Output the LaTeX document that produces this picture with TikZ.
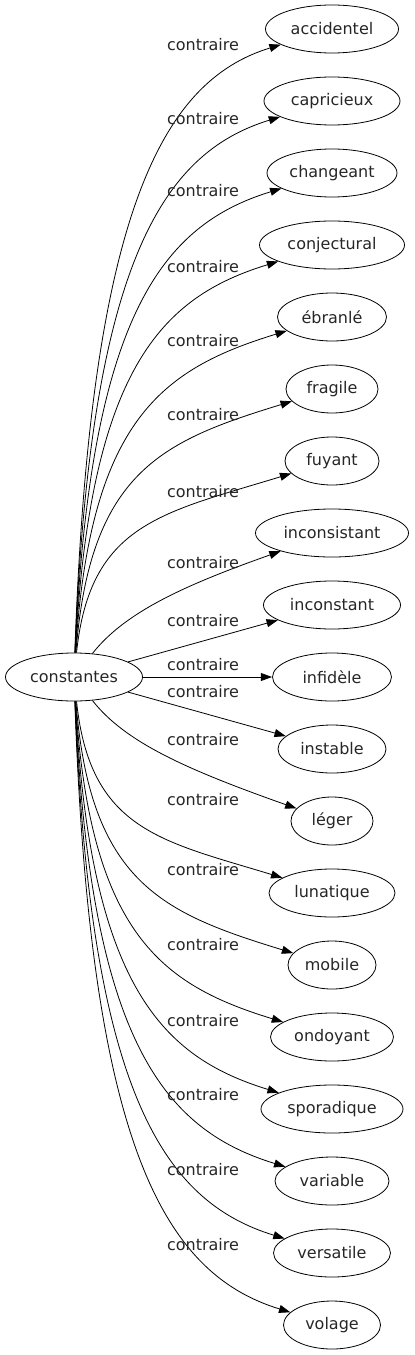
\documentclass[tikz,border=0pt]{standalone}
\usepackage{fontspec}
\setmainfont{DejaVu Sans}
\usetikzlibrary{arrows.meta,shapes.geometric}
\begin{document}
\begin{tikzpicture}[x=0.75pt,y=-0.75pt,
  every node/.style={font=\fontsize{12}{14}\selectfont, text=black!85},
  word/.style={draw=black, ellipse, inner sep=0pt, minimum height=36pt, line width=0.6pt},
  rel/.style={draw=black, line width=0.6pt, -{Triangle[length=8.5pt,width=6pt]}},
  lab/.style={inner sep=0pt}]
\useasboundingbox (0,0) rectangle (414,1355);
\node[word, minimum width=102.75pt] (c) at (74,677) {constantes};
\foreach \n/\t/\w/\k in {acc/accidentel/133/0, cap/capricieux/136/1, cha/changeant/130/2,
  con/conjectural/145/3, ebr/ébranlé/109/4, fra/fragile/92/5, fuy/fuyant/94/6,
  ics/inconsistant/153/7, ict/inconstant/137/8, inf/infidèle/119/9, ins/instable/108/10,
  leg/léger/82/11, lun/lunatique/126/12, mob/mobile/88/13, ond/ondoyant/123/14,
  spo/sporadique/142/15, var/variable/114/16, ver/versatile/117/17, vol/volage/97/18}{
  \pgfmathtruncatemacro{\ty}{29+72*\k}
  \node[word, minimum width=\w*0.75pt] (\n) at (332,\ty) {\t};
}
\foreach \n/\k/\ly in {acc/0/45, cap/1/119, cha/2/191, con/3/267, ebr/4/341, fra/5/415,
  fuy/6/492, ics/7/563, ict/8/621, inf/9/665, ins/10/692, leg/11/740, lun/12/800,
  mob/13/870, ond/14/945, spo/15/1021, var/16/1095, ver/17/1170, vol/18/1245}{
  \pgfmathtruncatemacro{\j}{\k<9 ? \k : 18-\k}
  \pgfmathsetmacro{\s}{\k<9 ? 1 : -1}
  \pgfmathsetmacro{\tu}{29+72*\j}
  \pgfmathsetmacro{\h}{641-\tu}
  \ifnum\j<7
    \pgfmathsetmacro{\ax}{90}
    \pgfmathsetmacro{\ay}{653-0.72*\h}
    \pgfmathsetmacro{\bx}{162}
    \pgfmathsetmacro{\by}{\tu+52}
  \else
    \pgfmathsetmacro{\ax}{125}
    \pgfmathsetmacro{\ay}{612}
    \pgfmathsetmacro{\bx}{185}
    \pgfmathsetmacro{\by}{585}
  \fi
  \pgfmathsetmacro{\ay}{677-\s*(677-\ay)}
  \pgfmathsetmacro{\by}{677-\s*(677-\by)}
  \ifnum\j<8
    \draw[rel] (c) .. controls (\ax,\ay) and (\bx,\by) .. (\n) node[lab] at (203,\ly) {contraire};
  \else
    \draw[rel] (c) -- (\n) node[lab] at (203,\ly) {contraire};
  \fi
}
\end{tikzpicture}
\end{document}
